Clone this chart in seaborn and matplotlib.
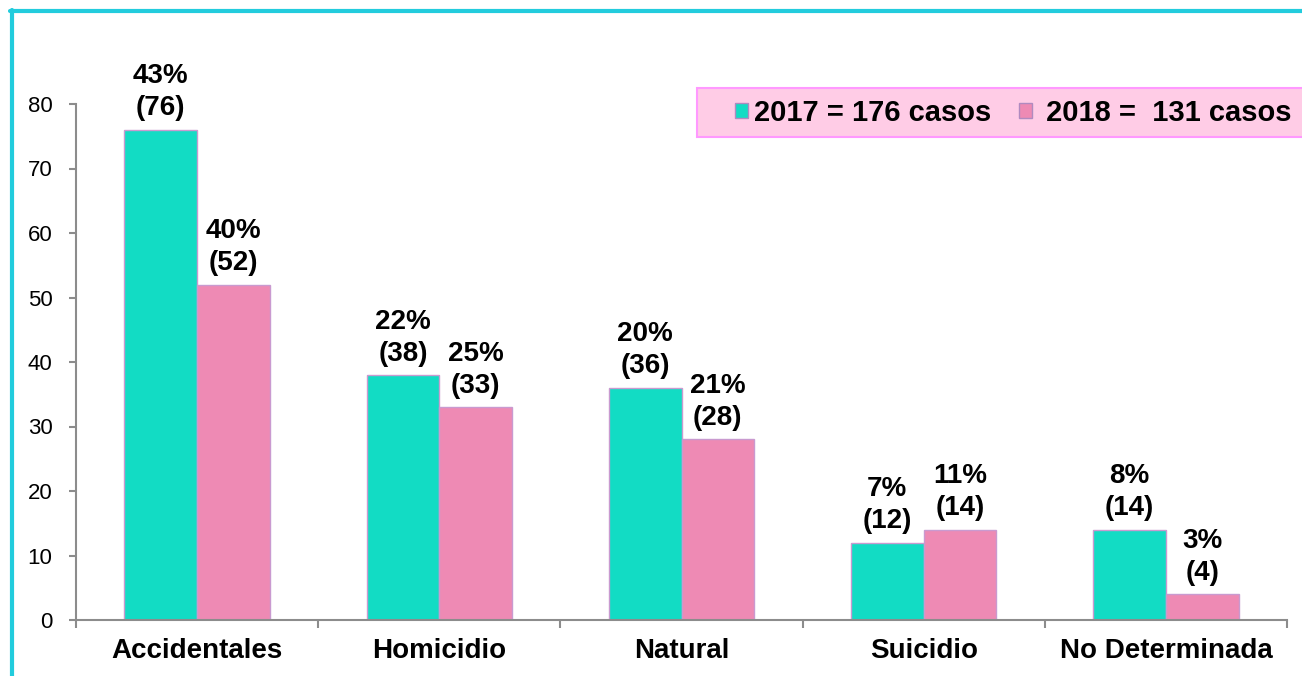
import pandas as pd
import seaborn as sns
import matplotlib.pyplot as plt
from matplotlib.patches import Patch, Rectangle
from matplotlib.lines import Line2D

# Data
categorias = ["Accidentales", "Homicidio", "Natural", "Suicidio", "No Determinada"]
casos_2017 = [76, 38, 36, 12, 14]
casos_2018 = [52, 33, 28, 14, 4]
pct_2017 = ["43%", "22%", "20%", "7%", "8%"]
pct_2018 = ["40%", "25%", "21%", "11%", "3%"]
series = ["2017 = 176 casos", "2018 =  131 casos"]
y_ticks = [0, 10, 20, 30, 40, 50, 60, 70, 80]

colores = ["#12dcc4", "#ee8ab4"]

df = pd.DataFrame({
    "categoria": categorias * 2,
    "casos": casos_2017 + casos_2018,
    "serie": [series[0]] * len(categorias) + [series[1]] * len(categorias),
})

sns.set_style("white")
plt.rcParams["font.family"] = ["Liberation Sans", "DejaVu Sans"]
plt.rcParams["text.color"] = "black"
plt.rcParams["xtick.labelcolor"] = "black"
plt.rcParams["ytick.labelcolor"] = "black"

fig = plt.figure(figsize=(13.02, 6.76), dpi=100)
ax = fig.add_axes([76 / 1302, 1 - 620 / 676, (1287 - 76) / 1302, (620 - 104) / 676])

sns.barplot(data=df, x="categoria", y="casos", hue="serie", palette=colores,
            width=0.6, saturation=1, edgecolor="#c99ad0", linewidth=1,
            legend=False, ax=ax)

# Labels above bars
etiquetas = [pct_2017, pct_2018]
valores = [casos_2017, casos_2018]
for cont, pcts, vals in zip(ax.containers, etiquetas, valores):
    labels = [f"{p}\n({v})" for p, v in zip(pcts, vals)]
    ax.bar_label(cont, labels=labels, fontsize=20, fontweight="bold",
                 color="black", padding=6, linespacing=1.3)

# Axes styling
ax.set_xlim(-0.5, len(categorias) - 0.5)
ax.set_ylim(0, 80)
ax.set_yticks(y_ticks)
ax.set_xlabel("")
ax.set_ylabel("")
for s in ["top", "right"]:
    ax.spines[s].set_visible(False)
for s in ["left", "bottom"]:
    ax.spines[s].set_color("#8c8c8c")
    ax.spines[s].set_linewidth(1.5)

ax.tick_params(axis="y", which="major", direction="out", length=5, width=1.5,
               color="#8c8c8c", labelsize=16, pad=12, left=True)
ax.tick_params(axis="x", which="major", length=0, pad=13)
ax.set_xticks([i - 0.5 for i in range(len(categorias) + 1)], minor=True)
ax.tick_params(axis="x", which="minor", direction="out", length=6, width=1.5,
               color="#8c8c8c", bottom=True)
for lbl in ax.get_xticklabels():
    lbl.set_fontsize(20)
    lbl.set_fontweight("bold")

# Legend box (runs off the right edge like the original)
fig.add_artist(Rectangle((697 / 1302, 1 - 137 / 676), (1320 - 697) / 1302, 49 / 676,
                         facecolor="#ffcce6", edgecolor="#ff99ff", linewidth=1.5,
                         transform=fig.transFigure, zorder=1))
handles = [Patch(facecolor=c, edgecolor="#b08ac0") for c in colores]
leg = fig.legend(handles, [series[0], " " + series[1]], loc="center left",
                 bbox_to_anchor=(735 / 1302, 1 - 113 / 676), ncol=2,
                 frameon=False, prop={"size": 21, "weight": "bold"},
                 handlelength=0.45, handleheight=0.45, handletextpad=0.2,
                 columnspacing=0.95, borderpad=0, borderaxespad=0)
leg.set_zorder(2)

# Cyan frame on left and top
fig.add_artist(Line2D([12 / 1302, 12 / 1302], [0, 1 - 10 / 676],
                      color="#22ccdd", linewidth=3, transform=fig.transFigure))
fig.add_artist(Line2D([10 / 1302, 1], [1 - 11 / 676, 1 - 11 / 676],
                      color="#22ccdd", linewidth=3, transform=fig.transFigure))

fig.savefig("out.png", dpi=100)
